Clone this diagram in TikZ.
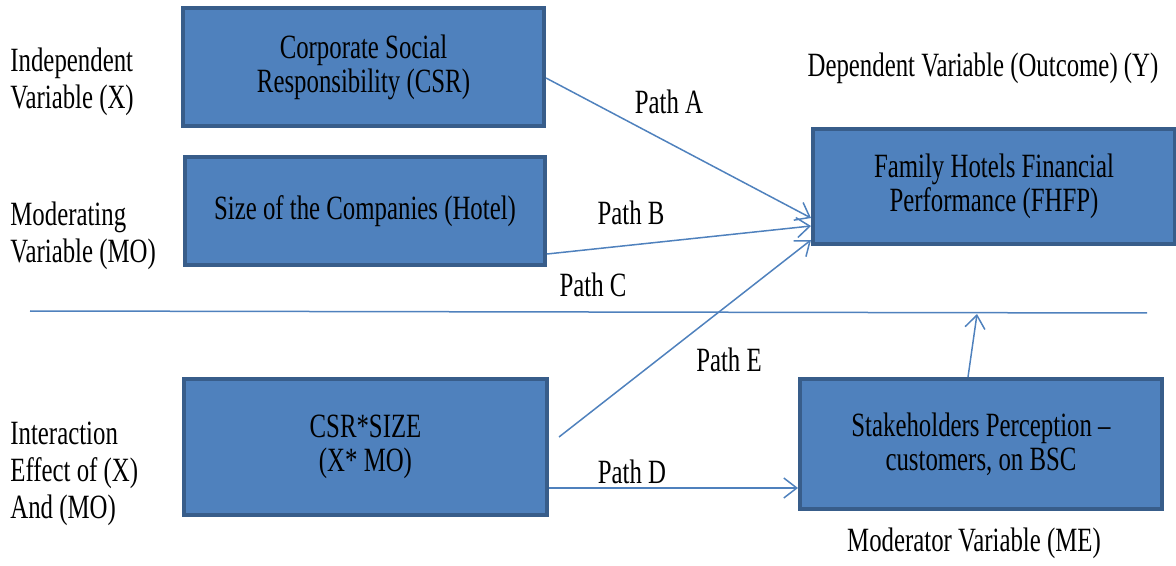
\documentclass[tikz,border=0pt]{standalone}
\usepackage{fontspec}
\setmainfont{Liberation Serif}[FakeStretch=0.73]
\usetikzlibrary{arrows.meta}
\definecolor{boxfill}{RGB}{79,129,189}
\definecolor{boxline}{RGB}{56,93,138}
\definecolor{linkblue}{RGB}{79,129,189}
\begin{document}
\begin{tikzpicture}[x=0.5pt, y=-0.5pt,
    every node/.style={font=\fontsize{17}{17}\selectfont},
    varbox/.style={draw=boxline, line width=2pt, fill=boxfill, align=center, inner sep=0pt},
    sidelabel/.style={anchor=west, align=left, inner sep=0pt, font=\fontsize{17}{18.5}\selectfont},
    link/.style={draw=linkblue, line width=0.75pt, -{Straight Barb[length=6.5pt,width=10pt]}}]
    \useasboundingbox (0,0) rectangle (1176,566);

    % Boxes
    \node[varbox, minimum width=180.5pt, minimum height=59pt] (csr) at (363.5,67) {Corporate Social\\Responsibility (CSR)};
    \node[varbox, minimum width=180pt, minimum height=54pt] (size) at (365,211) {Size of the Companies (Hotel)};
    \node[varbox, minimum width=181pt, minimum height=57.5pt] (fhfp) at (994,186.5) {Family Hotels Financial\\Performance (FHFP)};
    \node[varbox, minimum width=181.5pt, minimum height=68pt] (inter) at (365.5,447) {CSR*SIZE\\(X* MO)};
    \node[varbox, minimum width=181pt, minimum height=65pt] (sh) at (981,444) {Stakeholders Perception --\\customers, on BSC};

    % Side labels
    \node[sidelabel] (indep) at (10,82) {Independent\\Variable (X)};
    \node[sidelabel] (moder) at (10,236) {Moderating\\Variable (MO)};
    \node[sidelabel] (effect) at (10,474) {Interaction\\Effect of (X)\\And (MO)};
    \node (dep) at (983,68) {Dependent Variable (Outcome) (Y)};
    \node (me) at (974,543) {Moderator Variable (ME)};

    % Dividing line
    \coordinate (lineL) at (30,311);
    \coordinate (lineR) at (1147,313);
    \draw[linkblue, line width=0.75pt] (lineL) -- (lineR);

    % Paths
    \draw[link] ([yshift=-5.5pt]csr.east) -- ([yshift=14pt]fhfp.south west);
    \draw[link] ([yshift=6.5pt]size.south east) -- ([yshift=10pt]fhfp.south west);
    \draw[link] ([xshift=5pt,yshift=5pt]inter.east) -- ([yshift=3pt]fhfp.south west);
    \draw[link] ([yshift=-20.5pt]inter.east) -- ([yshift=-20.5pt]inter.east -| sh.west);
    \draw[link] ([xshift=-6.5pt]sh.north) -- ([xshift=-2pt,yshift=31.5pt]sh.north);

    % Labels
    \node (pa) at (669,102) {Path A};
    \node (pb) at (631,213) {Path B};
    \node (pc) at (593,285) {Path C};
    \node (pe) at (729,360) {Path E};
    \node (pd) at (632,472) {Path D};
\end{tikzpicture}
\end{document}
